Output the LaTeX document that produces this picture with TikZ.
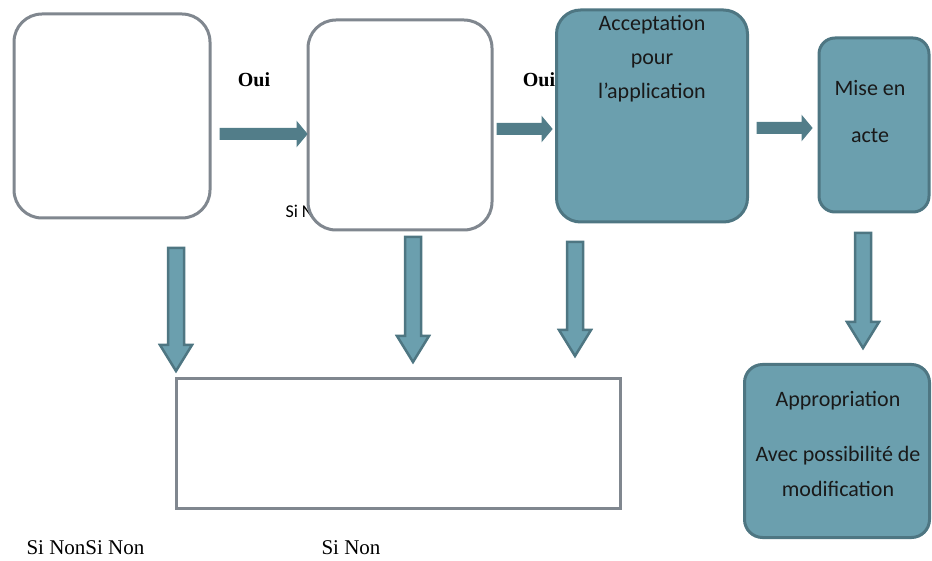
\documentclass[tikz,border=0pt]{standalone}
\usepackage{fontspec}
\setmainfont{Liberation Serif}
\newfontfamily\calibri{Carlito}
\usetikzlibrary{calc,positioning}

\definecolor{boxgray}{HTML}{80878F}
\definecolor{tealfill}{HTML}{6B9FAE}
\definecolor{tealedge}{HTML}{4E7682}
\definecolor{tealdark}{HTML}{527D89}

\tikzset{
  whitebox/.style={draw=boxgray,line width=3pt,fill=white,rounded corners=28pt},
  tealbox/.style={draw=tealedge,line width=3pt,fill=tealfill,rounded corners=24pt},
  boxtxt/.style={font=\calibri\fontsize{22}{34}\selectfont,align=center,text=black!90},
  vblk/.style={draw=tealedge,line width=2.5pt,fill=tealfill,line join=miter},
  hblk/.style={draw=tealdark,line width=1pt,fill=tealdark},
}

% block arrows: start, tip
\newcommand{\vblock}[2]{%
  \draw[vblk] ($(#1)+(-8,0)$) -- ($(#2)+(-8,-26)$) -- ($(#2)+(-16,-26)$) -- (#2)
    -- ($(#2)+(16,-26)$) -- ($(#2)+(8,-26)$) -- ($(#1)+(8,0)$) -- cycle;}
\newcommand{\hblock}[2]{%
  \draw[hblk] ($(#1)+(0,-5.5)$) -- ($(#2)+(-10,-5.5)$) -- ($(#2)+(-10,-12)$) -- (#2)
    -- ($(#2)+(-10,12)$) -- ($(#2)+(-10,5.5)$) -- ($(#1)+(0,5.5)$) -- cycle;}

\begin{document}
\begin{tikzpicture}[x=1pt,y=-1pt]
\useasboundingbox (0,0) rectangle (932,561);

% labels partly hidden behind the boxes
\node[font=\bfseries\fontsize{20}{22}\selectfont] (oui1) at (254,80) {Oui};
\node[font=\bfseries\fontsize{20}{22}\selectfont] (oui2) at (539,80) {Oui};
\node[font=\calibri\fontsize{18}{20}\selectfont,anchor=west] (sinonA) at (282,211) {Si Non};

% boxes of the top row
\node[whitebox,minimum width=196pt,minimum height=204pt] (b1) at (112,116) {};
\node[whitebox,minimum width=184pt,minimum height=210pt] (b2) at (400,125) {};
\node[tealbox,minimum width=191pt,minimum height=212pt] (acc) at (652,116) {};
\node[tealbox,rounded corners=16pt,minimum width=110pt,minimum height=174pt] (acte) at (874,125) {};
\node[boxtxt] (acctxt) at (652,59) {Acceptation\\pour\\l’application};
\node[boxtxt,font=\calibri\fontsize{22}{47}\selectfont] (actetxt) at (870,112) {Mise en\\acte};

% bottom boxes
\node[draw=boxgray,line width=3pt,fill=white,minimum width=444pt,minimum height=130pt] (bas) at (398,443) {};
\node[tealbox,rounded corners=18pt,minimum width=185pt,minimum height=173pt] (appr) at (837,451) {};
\node[boxtxt,font=\calibri\fontsize{22}{35}\selectfont] (apprtxt) at (838,444) {Appropriation\\[20pt]Avec possibilité de\\modification};

% horizontal arrows
\coordinate (h1s) at (220,134);
\coordinate (h1e) at (307,134);
\coordinate (h2s) at (497,129);
\coordinate (h2e) at (552,129);
\coordinate (h3s) at (757,128);
\coordinate (h3e) at (812,128);
\hblock{h1s}{h1e}
\hblock{h2s}{h2e}
\hblock{h3s}{h3e}

% vertical arrows
\coordinate (v1s) at (176,248);
\coordinate (v1e) at (176,371);
\coordinate (v2s) at (413,237);
\coordinate (v2e) at (413,362);
\coordinate (v3s) at (575,242);
\coordinate (v3e) at (575,356);
\coordinate (v4s) at (863,233);
\coordinate (v4e) at (863,348);
\foreach \i in {1,2,3,4} {
  \vblock{v\i s}{v\i e}
}

% texts below
\node[font=\fontsize{21}{24}\selectfont,anchor=west] (sinonB) at (23,548) {Si NonSi Non};
\node[font=\fontsize{21}{24}\selectfont,anchor=west] (sinonC) at (318,548) {Si Non};

\end{tikzpicture}
\end{document}
